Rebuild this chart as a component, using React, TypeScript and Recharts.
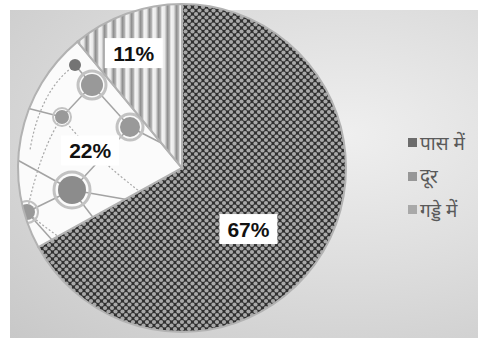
import React from 'react'
import { PieChart, Pie, Cell, Legend } from 'recharts'

// categories and shares
const categories = ['पास में', 'दूर', 'गड्डे में']
const shares = [67, 22, 11]
const percentLabels = ['67%', '22%', '11%']

// styling
const sliceFills = ['url(#dots)', 'url(#network)', 'url(#stripes)']
const legendColors = ['#6c6c6c', '#979797', '#a9a9a9']
const labelRadius = [0.55, 0.57, 0.76]
const labelTurn = [-12, 0, 3]

const data = categories.map((name, i) => ({ name, value: shares[i] }))

const RADIAN = Math.PI / 180

function renderLabel(props: any) {
  const { cx, cy, midAngle, outerRadius, index } = props
  const r = outerRadius * labelRadius[index]
  const a = (midAngle + labelTurn[index]) * RADIAN
  const x = cx + r * Math.cos(a)
  const y = cy - r * Math.sin(a)
  const text = percentLabels[index]
  const w = text.length * 12 + 22
  return (
    <g>
      <rect x={x - w / 2} y={y - 15} width={w} height={30} fill="#ffffff" />
      <text
        x={x}
        y={y}
        textAnchor="middle"
        dominantBaseline="central"
        fontFamily="Liberation Sans, Arial, sans-serif"
        fontWeight="bold"
        fontSize={21}
        fill="#111"
      >
        {text}
      </text>
    </g>
  )
}

function renderLegend() {
  return (
    <div style={{ fontFamily: '"Noto Sans", sans-serif', fontSize: 19, color: '#5a5a5a' }}>
      {categories.map((c, i) => (
        <div key={c} style={{ display: 'flex', alignItems: 'center', height: 33.5, whiteSpace: 'nowrap' }}>
          <span style={{ width: 9, height: 9, background: legendColors[i], marginRight: 3, display: 'inline-block' }} />
          <span>{c}</span>
        </div>
      ))}
    </div>
  )
}

// network texture for the 22% slice
function NetworkPattern() {
  const line = { stroke: '#a3a3a3', strokeWidth: 1.5 }
  const dotted = { stroke: '#a8a8a8', strokeWidth: 1.2, strokeDasharray: '2 2', fill: 'none' }
  return (
    <pattern id="network" patternUnits="userSpaceOnUse" x={0} y={0} width={478} height={339}>
      <rect width={478} height={339} fill="#fbfbfb" />
      <line x1={75} y1={65} x2={92} y2={85} {...line} />
      <line x1={92} y1={85} x2={130} y2={127} {...line} />
      <line x1={92} y1={85} x2={62} y2={117} {...line} />
      <line x1={62} y1={117} x2={15} y2={105} {...line} />
      <line x1={130} y1={127} x2={72} y2={190} {...line} />
      <line x1={130} y1={127} x2={175} y2={150} {...line} />
      <line x1={72} y1={190} x2={27} y2={212} {...line} />
      <line x1={72} y1={190} x2={12} y2={157} {...line} />
      <line x1={72} y1={190} x2={158} y2={205} {...line} />
      <line x1={72} y1={190} x2={118} y2={250} {...line} />
      <line x1={27} y1={212} x2={70} y2={260} {...line} />
      <path d="M27 212 Q40 150 62 117" {...dotted} />
      <path d="M62 117 Q95 160 158 205" {...dotted} />
      <path d="M27 212 Q70 250 130 275" {...dotted} />
      <path d="M75 65 Q40 90 30 150" {...dotted} />
      <circle cx={75} cy={65} r={6} fill="#747474" />
      <circle cx={92} cy={85} r={14} fill="none" stroke="#c2c2c2" strokeWidth={3} />
      <circle cx={92} cy={85} r={11} fill="#999" />
      <circle cx={130} cy={127} r={13} fill="none" stroke="#c2c2c2" strokeWidth={3} />
      <circle cx={130} cy={127} r={10} fill="#999" />
      <circle cx={62} cy={117} r={9} fill="none" stroke="#c2c2c2" strokeWidth={2} />
      <circle cx={62} cy={117} r={7} fill="#999" />
      <circle cx={72} cy={190} r={18} fill="none" stroke="#c2c2c2" strokeWidth={3} />
      <circle cx={72} cy={190} r={14} fill="#8c8c8c" />
      <circle cx={27} cy={212} r={11} fill="none" stroke="#c2c2c2" strokeWidth={2} />
      <circle cx={27} cy={212} r={8} fill="#999" />
      <circle cx={158} cy={205} r={8} fill="none" stroke="#c2c2c2" strokeWidth={2} />
      <circle cx={158} cy={205} r={6} fill="#999" />
      <circle cx={118} cy={250} r={5} fill="#9e9e9e" />
    </pattern>
  )
}

export default function App() {
  return (
    <div style={{ position: 'absolute', left: 0, top: 0, width: 478, height: 339, background: '#fff' }}>
      <div
        style={{
          position: 'absolute',
          left: 10,
          top: 10,
          width: 468,
          height: 328,
          background: 'radial-gradient(ellipse at 72% 38%, #efefef 0%, #dedede 45%, #c8c8c8 100%)',
        }}
      />
      <div style={{ position: 'absolute', left: 0, top: 0 }}>
        <PieChart width={478} height={339} margin={{ top: 0, right: 0, bottom: 0, left: 0 }}>
          <defs>
            <pattern id="dots" patternUnits="userSpaceOnUse" width={7} height={7}>
              <rect width={7} height={7} fill="#303030" />
              <circle cx={0} cy={0} r={2.1} fill="#a8a8a8" />
              <circle cx={7} cy={0} r={2.1} fill="#a8a8a8" />
              <circle cx={0} cy={7} r={2.1} fill="#a8a8a8" />
              <circle cx={7} cy={7} r={2.1} fill="#a8a8a8" />
              <circle cx={3.5} cy={3.5} r={2.1} fill="#a8a8a8" />
            </pattern>
            <linearGradient id="stripeGrad" x1="0" y1="0" x2="1" y2="0">
              <stop offset="0%" stopColor="#f5f5f5" />
              <stop offset="30%" stopColor="#e8e8e8" />
              <stop offset="60%" stopColor="#8f8f8f" />
              <stop offset="85%" stopColor="#b5b5b5" />
              <stop offset="100%" stopColor="#f5f5f5" />
            </linearGradient>
            <pattern id="stripes" patternUnits="userSpaceOnUse" width={9} height={10}>
              <rect width={9} height={10} fill="url(#stripeGrad)" />
            </pattern>
            <NetworkPattern />
          </defs>
          <Pie
            data={data}
            dataKey="value"
            nameKey="name"
            cx={182}
            cy={168}
            outerRadius={164}
            startAngle={90}
            endAngle={-270}
            stroke="#b2b2b2"
            strokeWidth={2}
            label={renderLabel}
            labelLine={false}
            isAnimationActive={false}
          >
            {data.map((d, i) => (
              <Cell key={d.name} fill={sliceFills[i]} />
            ))}
          </Pie>
          <Legend
            content={renderLegend}
            layout="vertical"
            wrapperStyle={{ left: 408, top: 126, width: 90 }}
          />
        </PieChart>
      </div>
    </div>
  )
}
